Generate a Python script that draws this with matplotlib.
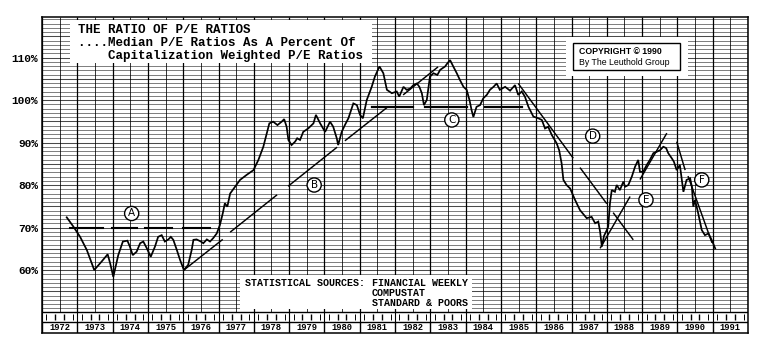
import matplotlib
matplotlib.use("Agg")
import matplotlib.pyplot as plt
from matplotlib.patches import Rectangle

# ---------------- data ----------------
years = [1972.70, 1972.89, 1973.08, 1973.27, 1973.48, 1973.69, 1973.86, 1973.93, 1974.02, 1974.16,
         1974.29, 1974.42, 1974.49, 1974.57, 1974.68, 1974.78, 1974.87, 1974.97, 1975.08, 1975.20,
         1975.29, 1975.39, 1975.48, 1975.58, 1975.65, 1975.72, 1975.82, 1975.91, 1976.02, 1976.14,
         1976.24, 1976.29, 1976.38, 1976.50, 1976.57, 1976.67, 1976.76, 1976.85, 1976.95, 1977.04,
         1977.12, 1977.18, 1977.25, 1977.33, 1977.47, 1977.61, 1977.80, 1977.99, 1978.13, 1978.27,
         1978.37, 1978.44, 1978.55, 1978.67, 1978.79, 1978.86, 1978.93, 1978.98, 1979.07, 1979.17,
         1979.23, 1979.31, 1979.40, 1979.54, 1979.69, 1979.76, 1979.88, 1980.02, 1980.16, 1980.25,
         1980.35, 1980.39, 1980.49, 1980.58, 1980.68, 1980.82, 1980.92, 1981.01, 1981.09, 1981.20,
         1981.34, 1981.43, 1981.56, 1981.67, 1981.77, 1981.91, 1982.05, 1982.12, 1982.24, 1982.33,
         1982.43, 1982.52, 1982.62, 1982.69, 1982.76, 1982.82, 1982.90, 1982.94, 1982.99, 1983.09,
         1983.20, 1983.28, 1983.42, 1983.48, 1983.56, 1983.65, 1983.75, 1983.84, 1983.94, 1984.03,
         1984.11, 1984.17, 1984.22, 1984.31, 1984.41, 1984.50, 1984.60, 1984.69, 1984.79, 1984.88,
         1984.97, 1985.12, 1985.26, 1985.40, 1985.49, 1985.59, 1985.68, 1985.78, 1985.92, 1986.06,
         1986.16, 1986.25, 1986.34, 1986.44, 1986.58, 1986.65, 1986.72, 1986.77, 1986.86, 1986.96,
         1987.10, 1987.24, 1987.43, 1987.57, 1987.67, 1987.76, 1987.81, 1987.86, 1987.92, 1988.00,
         1988.04, 1988.09, 1988.14, 1988.23, 1988.28, 1988.37, 1988.47, 1988.52, 1988.61, 1988.71,
         1988.80, 1988.89, 1988.94, 1989.03, 1989.13, 1989.22, 1989.32, 1989.41, 1989.51, 1989.60,
         1989.68, 1989.74, 1989.84, 1989.90, 1989.98, 1990.07, 1990.17, 1990.26, 1990.36, 1990.41,
         1990.45, 1990.50, 1990.59, 1990.69, 1990.78, 1990.88, 1990.97, 1991.07]
ratio = [72.4, 70.2, 67.8, 64.7, 60.0, 62.0, 63.7, 61.6, 58.4, 63.5,
         66.7, 66.9, 65.5, 63.5, 64.3, 66.3, 66.7, 65.1, 63.1, 65.5,
         67.8, 68.2, 66.7, 67.2, 67.8, 67.1, 64.7, 62.4, 60.0, 61.2,
         64.7, 67.1, 67.2, 66.7, 66.3, 67.2, 66.7, 67.5, 68.6, 70.6,
         73.3, 75.7, 74.9, 78.0, 79.6, 81.2, 82.4, 83.5, 85.9, 89.0,
         92.2, 94.5, 94.9, 94.1, 94.9, 95.5, 93.7, 90.6, 89.4, 90.2,
         91.0, 90.6, 92.5, 93.3, 94.5, 96.5, 94.5, 92.5, 94.9, 93.7,
         91.0, 89.4, 92.5, 94.1, 95.7, 99.2, 98.8, 96.5, 95.7, 100.0,
         103.1, 105.5, 107.9, 106.3, 102.4, 101.6, 102.0, 100.8, 103.1, 102.4,
         102.7, 103.5, 103.9, 103.1, 101.6, 98.8, 100.0, 102.4, 105.5, 106.3,
         105.9, 107.1, 107.9, 108.6, 109.4, 107.9, 106.3, 104.7, 103.1, 102.4,
         100.0, 97.6, 96.0, 98.4, 98.8, 100.4, 101.2, 102.4, 103.1, 103.9,
         102.4, 103.1, 102.2, 103.5, 101.2, 102.0, 100.8, 98.4, 96.1, 95.7,
         95.3, 93.3, 93.7, 91.8, 89.8, 88.2, 85.1, 81.2, 80.0, 79.2,
         76.5, 74.1, 72.2, 72.5, 71.0, 71.4, 69.0, 65.5, 68.0, 69.4,
         70.2, 75.7, 78.8, 78.4, 80.0, 78.8, 80.8, 79.6, 80.0, 82.0,
         84.3, 85.9, 83.1, 83.1, 84.7, 85.9, 87.5, 87.8, 88.2, 89.0,
         88.7, 87.5, 86.3, 85.5, 83.5, 84.7, 78.4, 81.2, 81.6, 79.6,
         74.9, 76.5, 73.3, 69.4, 68.2, 68.6, 67.1, 65.1]

# hand-drawn trend lines: (t0, v0, t1, v1) per segment
trend_solid = [
    (1976.02, 60.0, 1977.12, 67.2),                      # A support
    (1977.33, 68.9, 1978.66, 77.7), (1978.97, 79.7, 1980.36, 88.9),
    (1980.58, 90.4, 1981.77, 98.2), (1982.23, 101.2, 1983.22, 107.8),   # B
    (1985.49, 103.9, 1987.05, 86.3), (1987.24, 84.1, 1988.00, 75.6),
    (1988.18, 73.5, 1988.75, 67.1),                      # D
    (1987.81, 65.1, 1988.66, 77.3), (1988.94, 81.3, 1989.70, 92.2),     # E
    (1989.98, 90.2, 1990.22, 83.5), (1990.30, 82.1, 1990.98, 66.4),     # F
]
level_a = 70.0
level_a_segments = [(1972.79, 1973.73), (1973.98, 1974.69), (1974.92, 1975.68), (1976.00, 1976.76)]
level_c = 98.4
level_c_segments = [(1981.35, 1982.51), (1982.85, 1984.04), (1984.55, 1985.60)]

marker_letters = ["A", "B", "C", "D", "E", "F"]
marker_t = [1974.54, 1979.71, 1983.61, 1987.60, 1989.11, 1990.69]
marker_v = [73.3, 80.0, 95.3, 91.5, 76.5, 81.2]

year_labels = ["1972", "1973", "1974", "1975", "1976", "1977", "1978", "1979", "1980", "1981",
               "1982", "1983", "1984", "1985", "1986", "1987", "1988", "1989", "1990", "1991"]
ytick_vals = [60, 70, 80, 90, 100, 110]
ytick_labels = ["60%", "70%", "80%", "90%", "100%", "110%"]

# ---------------- layout ----------------
W, H = 763, 355
fig = plt.figure(figsize=(W / 100, H / 100), dpi=100)
ax = fig.add_axes([42 / W, 1 - 333 / H, (748 - 42) / W, (333 - 17) / H])
T0, T1 = 1972, 1992
VBOT, VTOP = 45.18, 119.53
ax.set_xlim(T0, T1)
ax.set_ylim(VBOT, VTOP)

V_GRID = 50.12   # bottom of grid area
V_STRIP = 47.76  # bottom of quarter strip


def fx(x):
    return x / W


def fy(y):
    return 1 - y / H


# grid
for lv in range(51, 120):
    ax.hlines(lv, T0, T1, color="#4a4a4a", lw=0.5 if lv % 5 else 0.75, zorder=1)
for k in range(0, 41):
    t = T0 + k * 0.5
    ax.vlines(t, V_GRID, VTOP, color="black", lw=0.9 if k % 2 == 0 else 0.55, zorder=1)

# quarter strip and year boxes
ax.hlines([V_GRID, V_STRIP], T0, T1, color="black", lw=1.0, zorder=3)
for i, lab in enumerate(year_labels):
    y0 = T0 + i
    ax.vlines(y0, VBOT, V_STRIP, color="black", lw=1.0, zorder=3)
    ax.vlines(y0, V_STRIP, V_GRID, color="black", lw=0.8, zorder=3)
    for q in range(4):
        tq = y0 + (q + 0.5) / 4
        ax.vlines(tq, 48.3, 49.6, color="black", lw=1.0 if q in (1, 2) else 0.7, zorder=3)
    ax.text(y0 + 0.5, (VBOT + V_STRIP) / 2, lab, ha="center", va="center",
            family="Liberation Mono", weight="bold", fontsize=6.3, zorder=4)

# white annotation boxes
fig.patches.append(Rectangle((fx(70), fy(63)), fx(372) - fx(70), fy(20) - fy(63),
                             transform=fig.transFigure, fc="white", ec="none", zorder=2))
fig.patches.append(Rectangle((fx(566), fy(76)), fx(688) - fx(566), fy(37) - fy(76),
                             transform=fig.transFigure, fc="white", ec="none", zorder=2))
fig.patches.append(Rectangle((fx(573), fy(70)), fx(680) - fx(573), fy(43) - fy(70),
                             transform=fig.transFigure, fc="none", ec="black", lw=1.0, zorder=3))
fig.patches.append(Rectangle((fx(240), fy(309)), fx(472) - fx(240), fy(275) - fy(309),
                             transform=fig.transFigure, fc="white", ec="none", zorder=2))

# trend lines
for (t0, v0, t1, v1) in trend_solid:
    ax.plot([t0, t1], [v0, v1], color="black", lw=1.05, zorder=5, solid_capstyle="butt")
for (t0, t1) in level_a_segments:
    ax.plot([t0, t1], [level_a, level_a], color="black", lw=1.5, zorder=5)
for (t0, t1) in level_c_segments:
    ax.plot([t0, t1], [level_c, level_c], color="black", lw=1.6, zorder=5)

# main series
ax.plot(years, ratio, color="black", lw=1.25, zorder=6, solid_joinstyle="miter")

# circled letters
for lab, t, v in zip(marker_letters, marker_t, marker_v):
    ax.text(t, v, lab, ha="center", va="center", fontsize=7.5, family="DejaVu Sans",
            zorder=7, bbox=dict(boxstyle="circle,pad=0.2", fc="white", ec="black", lw=1.0))

# texts
mono = dict(family="Liberation Mono", weight="bold", va="center", ha="left", zorder=8)
fig.text(fx(78), fy(30), "THE RATIO OF P/E RATIOS", fontsize=9, **mono)
fig.text(fx(78), fy(43), "....Median P/E Ratios As A Percent Of", fontsize=9, **mono)
fig.text(fx(108), fy(55.5), "Capitalization Weighted P/E Ratios", fontsize=9, **mono)

fig.text(fx(579), fy(51.5), "COPYRIGHT \u00a9 1990", fontsize=6.3, family="Liberation Sans",
         weight="bold", va="center", ha="left", zorder=8)
fig.text(fx(579), fy(62.5), "By The Leuthold Group", fontsize=6.3, family="Liberation Sans",
         va="center", ha="left", zorder=8)

fig.text(fx(245), fy(283.5), "STATISTICAL SOURCES:", fontsize=7.2, **mono)
fig.text(fx(372), fy(283.5), "FINANCIAL WEEKLY", fontsize=7.2, **mono)
fig.text(fx(372), fy(293), "COMPUSTAT", fontsize=7.2, **mono)
fig.text(fx(372), fy(302.7), "STANDARD & POORS", fontsize=7.2, **mono)

# axes styling
ax.set_xticks([])
ax.set_yticks(ytick_vals)
ax.set_yticklabels(ytick_labels, family="Liberation Mono", weight="bold", fontsize=8)
ax.tick_params(axis="y", length=0, pad=3)
for s in ax.spines.values():
    s.set_linewidth(1.1)
    s.set_color("black")

fig.savefig("out.png", dpi=100)
